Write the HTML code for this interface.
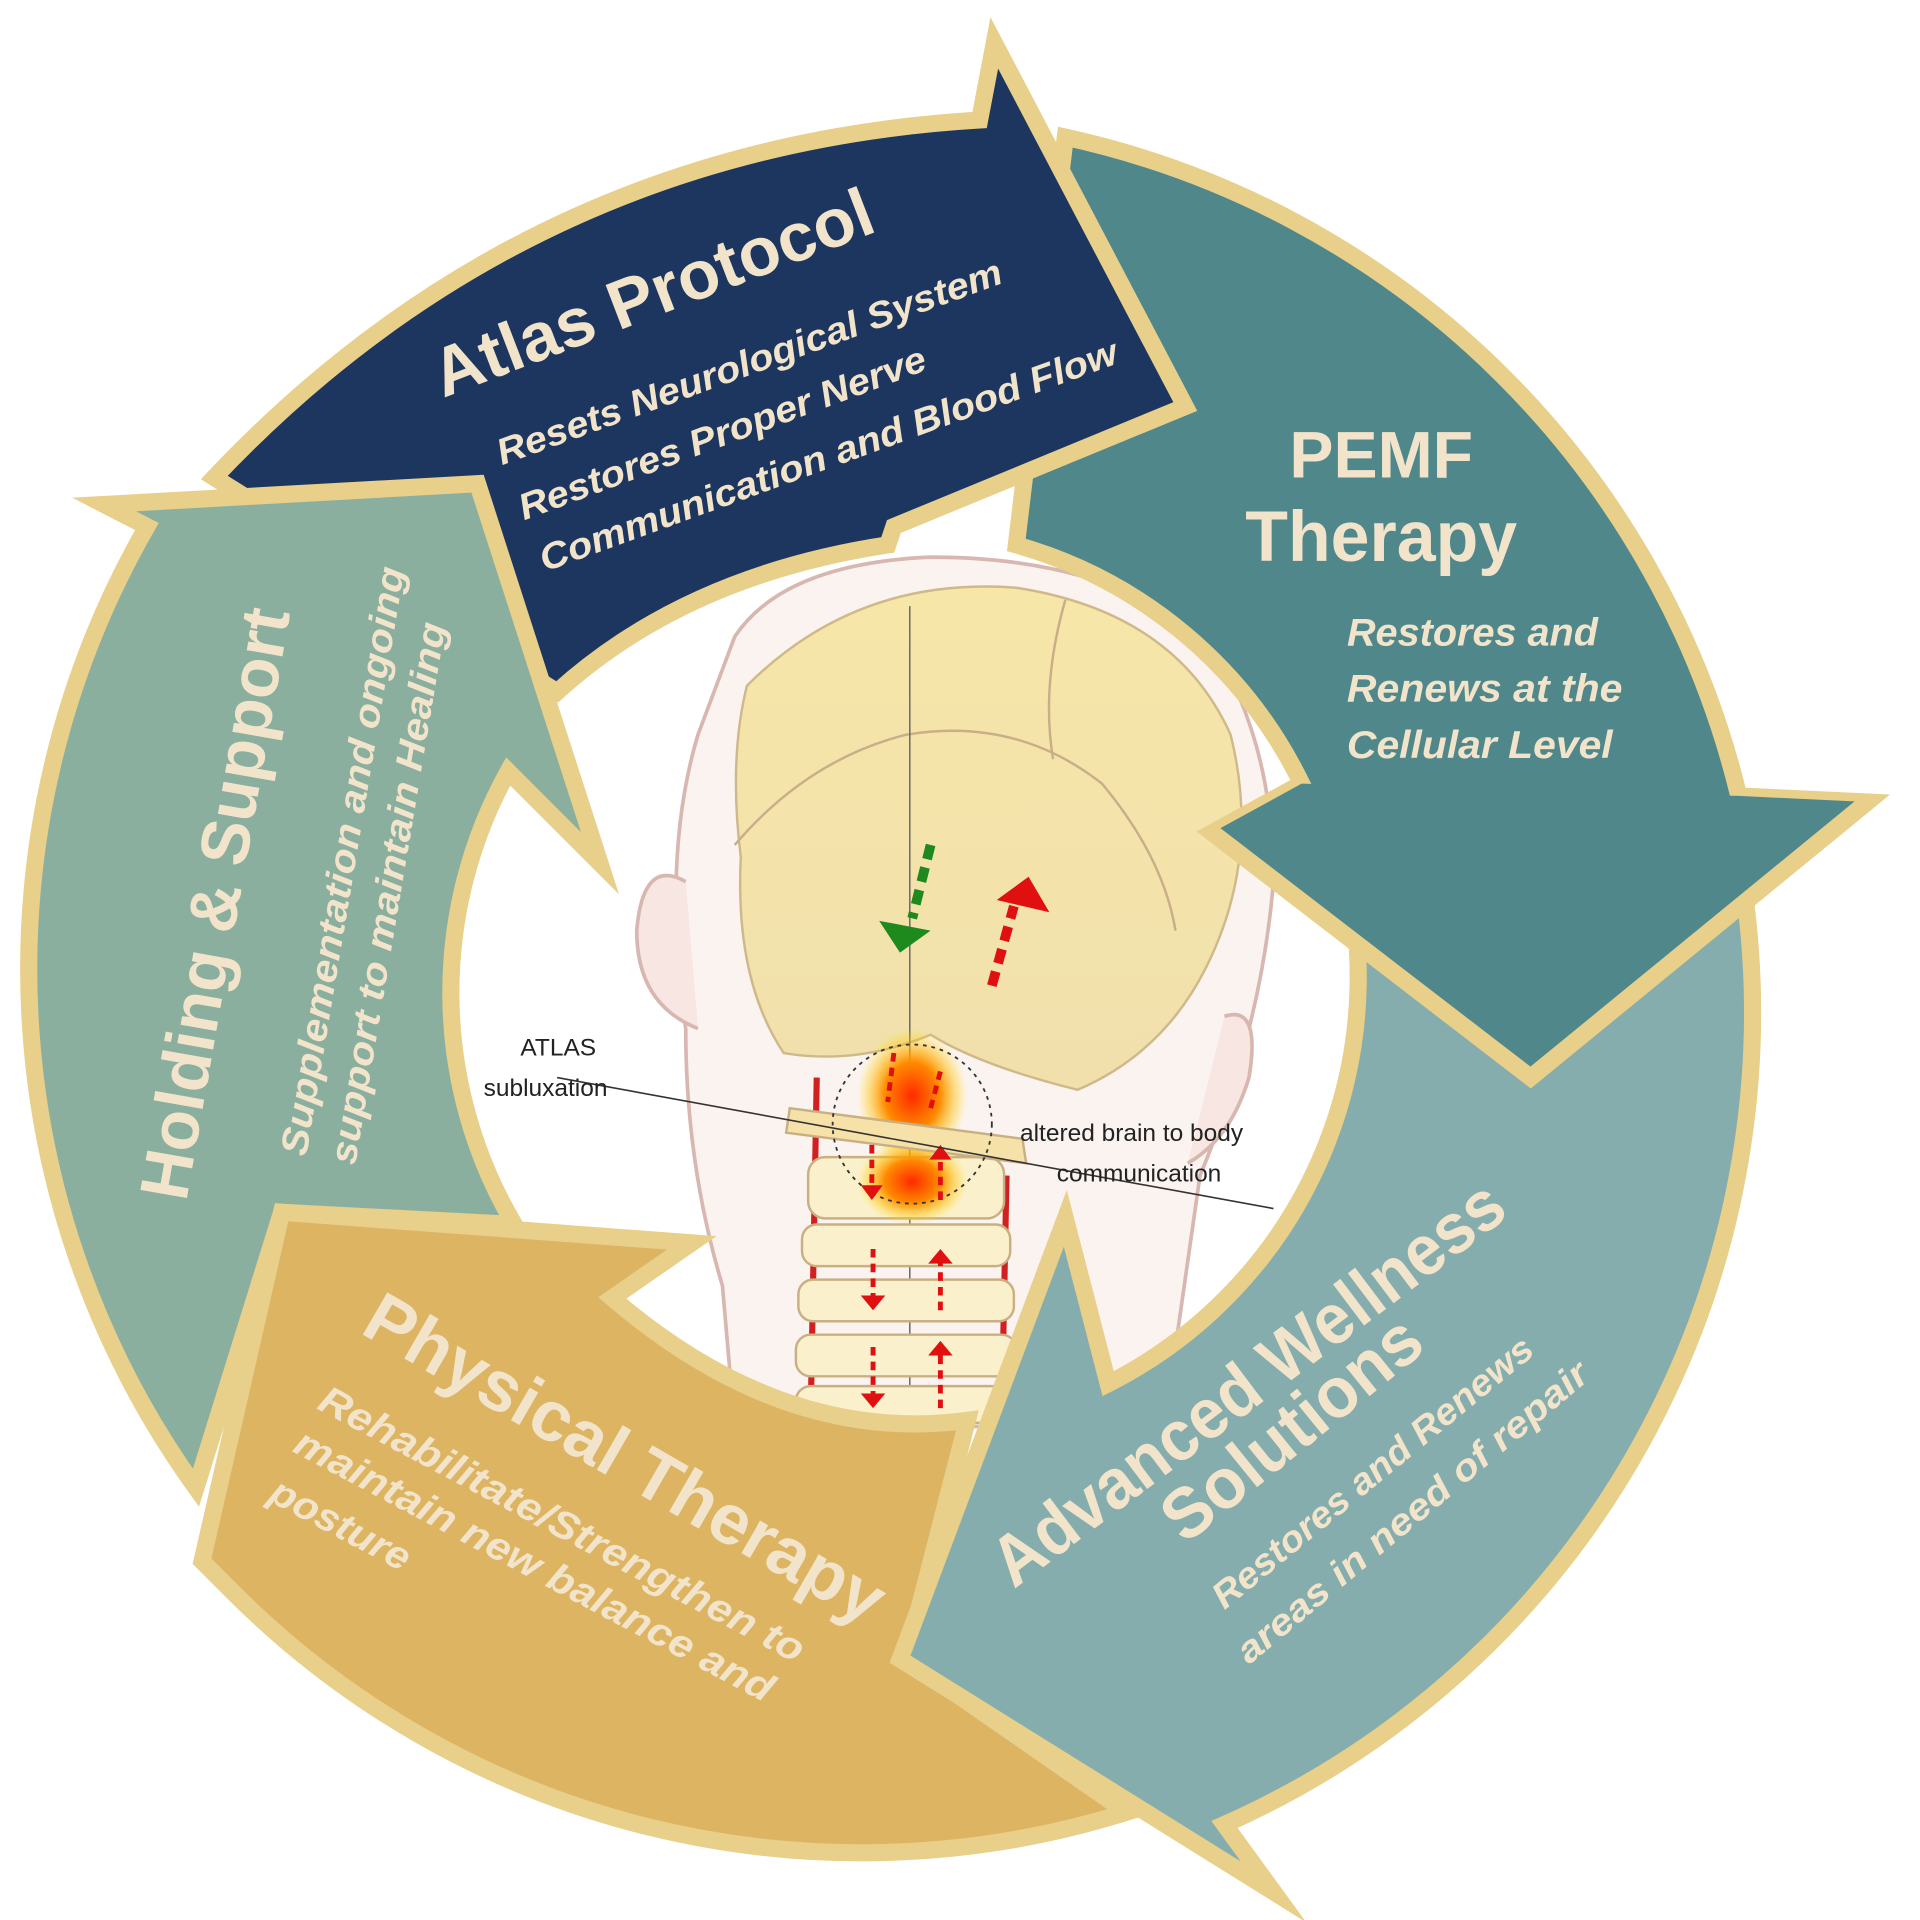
<!DOCTYPE html>
<html><head><meta charset="utf-8"><style>
html,body{margin:0;padding:0;background:#fff;}
svg{display:block;}
text{font-family:"Liberation Sans",sans-serif;fill:#f2e4ca;font-weight:bold;}
.it{font-style:italic;}
.lab{fill:#222;font-weight:normal;font-size:20px;}
</style></head><body>
<svg width="1920" height="1920" viewBox="0 0 1568 1568" xmlns="http://www.w3.org/2000/svg">
<defs>
<radialGradient id="glow" cx="0.5" cy="0.5" r="0.5">
<stop offset="0" stop-color="#ff2a00"/><stop offset="0.5" stop-color="#ff8a00"/><stop offset="1" stop-color="#ffe400" stop-opacity="0"/>
</radialGradient>
<linearGradient id="skull" x1="0" y1="0" x2="0" y2="1">
<stop offset="0" stop-color="#f6e6a8"/><stop offset="1" stop-color="#f1e0ac"/>
</linearGradient>
</defs>
<rect width="1568" height="1568" fill="#fff"/>

<g>
<path d="M600,520 Q640,460 760,455 Q900,455 985,520 Q1040,600 1040,720 Q1030,840 980,960 L960,1100 L880,1165 L600,1165 L590,1050 Q560,950 560,840 Q540,700 570,600 Z" fill="#fbf3f0" stroke="#d7b7b0" stroke-width="3"/>
<path d="M560,720 Q525,700 520,760 Q520,820 570,840" fill="#f7e6e2" stroke="#d7b7b0" stroke-width="3"/>
<path d="M1000,830 Q1030,820 1020,880 Q1005,930 970,950" fill="#f7e6e2" stroke="#d7b7b0" stroke-width="3"/>
<path d="M610,560 Q700,470 830,480 Q960,500 1005,600 Q1030,700 985,790 Q950,860 880,890 Q800,870 760,845 Q700,870 640,860 Q600,800 605,700 Q595,620 610,560 Z" fill="url(#skull)" stroke="#cfb98a" stroke-width="2"/>
<path d="M600,690 Q660,620 740,600 Q830,585 900,640 Q950,700 960,760" fill="none" stroke="#c9ae88" stroke-width="2"/>
<path d="M870,490 Q850,560 860,620" fill="none" stroke="#c9ae88" stroke-width="2"/>
<line x1="743" y1="495" x2="743" y2="1165" stroke="#666" stroke-width="1.2"/>
<line x1="667" y1="880" x2="662" y2="1160" stroke="#d12020" stroke-width="5"/>
<line x1="822" y1="960" x2="818" y2="1160" stroke="#d12020" stroke-width="5"/>
<g fill="#fbf0cc" stroke="#c9b082" stroke-width="2">
<rect x="655" y="1000" width="170" height="34" rx="12"/>
<rect x="652" y="1045" width="176" height="34" rx="12"/>
<rect x="650" y="1090" width="180" height="34" rx="12"/>
<rect x="650" y="1132" width="180" height="30" rx="12"/>
<rect x="660" y="945" width="160" height="50" rx="14"/>
</g>
<ellipse cx="745" cy="895" rx="45" ry="55" fill="url(#glow)"/>
<ellipse cx="745" cy="965" rx="45" ry="35" fill="url(#glow)"/>
<path d="M645,905 L835,930 L838,950 L642,925 Z" fill="#f6e2a8" stroke="#c9b082" stroke-width="2"/>
<circle cx="745" cy="918" r="65" fill="none" stroke="#333" stroke-width="1.5" stroke-dasharray="3,4"/>
<g stroke="#e01010" stroke-width="4" stroke-dasharray="7,5" fill="none">
<line x1="730" y1="860" x2="725" y2="900"/><line x1="760" y1="905" x2="768" y2="875"/>
<line x1="712" y1="935" x2="712" y2="970"/><line x1="768" y1="980" x2="768" y2="945"/>
<line x1="713" y1="1020" x2="713" y2="1060"/><line x1="768" y1="1070" x2="768" y2="1030"/>
<line x1="713" y1="1100" x2="713" y2="1140"/><line x1="768" y1="1150" x2="768" y2="1105"/>
</g>
<g fill="#e01010">
<path d="M703,1058 L723,1058 L713,1070Z"/><path d="M758,1032 L778,1032 L768,1020Z"/>
<path d="M703,1138 L723,1138 L713,1150Z"/><path d="M758,1107 L778,1107 L768,1095Z"/>
<path d="M703,968 L721,968 L712,980Z"/><path d="M759,947 L777,947 L768,935Z"/>
</g>
<line x1="760" y1="690" x2="745" y2="750" stroke="#1e8a1e" stroke-width="8" stroke-dasharray="12,7"/>
<path d="M718,752 L735,778 L760,760 Z" fill="#1e8a1e"/>
<line x1="810" y1="805" x2="828" y2="740" stroke="#e01010" stroke-width="8" stroke-dasharray="12,7"/>
<path d="M814,735 L857,745 L840,716 Z" fill="#e01010"/>
<line x1="455" y1="880" x2="1040" y2="987" stroke="#333" stroke-width="1.3"/>
<text class="lab" x="425" y="862">ATLAS</text>
<text class="lab" x="395" y="895">subluxation</text>
<text class="lab" x="833" y="932">altered brain to body</text>
<text class="lab" x="863" y="965">communication</text>
</g>

<g stroke="#e8cf8a" stroke-width="14" stroke-linejoin="miter" stroke-miterlimit="12">
<path d="M870,112 A725 725 0 0 1 1420,650 L1525,655 L1250,880 L990,680 L1063,640 A372 372 0 0 0 830,445 Z" fill="#4f878b"/>
<path d="M175,390 Q430,120 800,98 L812,35 L968,332 L730,430 L725,445 Q560,470 455,565 Z" fill="#1d365f"/>
<path d="M390,395 L490,705 L415,630 A372 372 0 0 0 420,1000 L230,990 L160,1215 A725 725 0 0 1 120,430 L85,412 Z" fill="#8aaf9f"/>
<path d="M230,990 L565,1015 L500,1060 Q640,1180 790,1160 L740,1355 L920,1480 A725 725 0 0 1 190,1300 L165,1275 Z" fill="#ddb462"/>
<path d="M1420,700 A725 725 0 0 1 1000,1490 L1040,1545 L735,1355 L870,995 L905,1130 A372 372 0 0 0 1090,680 Z" fill="#85adad"/>
</g>
<path d="M1063,640 L1420,650 L1525,655 L1250,880 L990,680 Z" fill="#4f878b"/>
<path d="M1525,655 L1250,880 L990,680" fill="none" stroke="#e8cf8a" stroke-width="14" stroke-miterlimit="12"/>

<text x="362" y="325" font-size="56" textLength="381" lengthAdjust="spacingAndGlyphs" transform="rotate(-21,362,325)">Atlas Protocol</text>
<text class="it" x="410" y="380" font-size="30" textLength="437" lengthAdjust="spacingAndGlyphs" transform="rotate(-20,410,380)">Resets Neurological System</text>
<text class="it" x="428" y="425" font-size="30" textLength="353" lengthAdjust="spacingAndGlyphs" transform="rotate(-20.5,428,425)">Restores Proper Nerve</text>
<text class="it" x="445" y="467" font-size="30" textLength="500" lengthAdjust="spacingAndGlyphs" transform="rotate(-20,445,467)">Communication and Blood Flow</text>

<text x="1128" y="390" font-size="54" text-anchor="middle">PEMF</text>
<text x="1128" y="458" font-size="58" text-anchor="middle" textLength="222" lengthAdjust="spacingAndGlyphs">Therapy</text>
<text class="it" x="1100" y="527" font-size="32" textLength="205" lengthAdjust="spacingAndGlyphs">Restores and</text>
<text class="it" x="1100" y="573" font-size="32" textLength="225" lengthAdjust="spacingAndGlyphs">Renews at the</text>
<text class="it" x="1100" y="619" font-size="32" textLength="217" lengthAdjust="spacingAndGlyphs">Cellular Level</text>

<text x="152" y="982" font-size="56" textLength="489" lengthAdjust="spacingAndGlyphs" transform="rotate(-80,152,982)">Holding &amp; Support</text>
<text class="it" x="250" y="945" font-size="31" textLength="487" lengthAdjust="spacingAndGlyphs" transform="rotate(-80.5,250,945)">Supplementation and  ongoing</text>
<text class="it" x="290" y="952" font-size="31" textLength="448" lengthAdjust="spacingAndGlyphs" transform="rotate(-80.5,290,952)">support to maintain Healing</text>

<text x="293" y="1088" font-size="58" textLength="480" lengthAdjust="spacingAndGlyphs" transform="rotate(30,293,1088)">Physical Therapy</text>
<text class="it" x="258" y="1150" font-size="32" textLength="444" lengthAdjust="spacingAndGlyphs" transform="rotate(28,258,1150)">Rehabilitate/Strengthen to</text>
<text class="it" x="238" y="1185" font-size="32" textLength="438" lengthAdjust="spacingAndGlyphs" transform="rotate(28,238,1185)">maintain new balance and</text>
<text class="it" x="218" y="1225" font-size="32" textLength="125" lengthAdjust="spacingAndGlyphs" transform="rotate(28,218,1225)">posture</text>

<text x="828" y="1298" font-size="58" textLength="508" lengthAdjust="spacingAndGlyphs" transform="rotate(-37,828,1298)">Advanced Wellness</text>
<text x="968" y="1262" font-size="58" textLength="255" lengthAdjust="spacingAndGlyphs" transform="rotate(-39,968,1262)">Solutions</text>
<text class="it" x="1000" y="1315" font-size="30" textLength="330" lengthAdjust="spacingAndGlyphs" transform="rotate(-39.5,1000,1315)">Restores and Renews</text>
<text class="it" x="1020" y="1360" font-size="30" textLength="365" lengthAdjust="spacingAndGlyphs" transform="rotate(-40,1020,1360)">areas in need of repair</text>
</svg>
</body></html>
